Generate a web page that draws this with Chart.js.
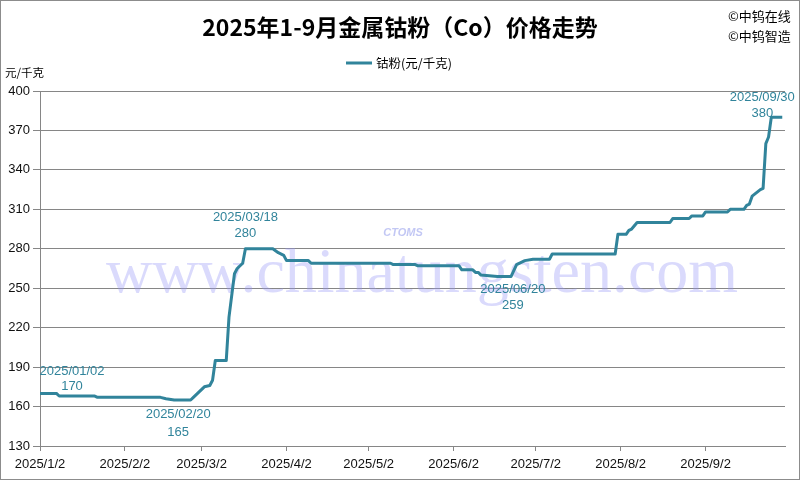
<!DOCTYPE html>
<html>
<head>
<meta charset="utf-8">
<script src="https://cdn.jsdelivr.net/npm/chart.js@4.4.1/dist/chart.umd.min.js"></script>
<style>
  html, body { margin: 0; padding: 0; background: #fff; }
  canvas { display: block; }
</style>
</head>
<body>
<canvas id="priceChart" width="800" height="480"></canvas>
<script>
// Price data (元/千克)
const dates = [
    '2025/01/02', '2025/01/08', '2025/01/09', '2025/01/22', '2025/01/23',
    '2025/02/15', '2025/02/17', '2025/02/20', '2025/02/26', '2025/02/27',
    '2025/03/01', '2025/03/03', '2025/03/05', '2025/03/06', '2025/03/07',
    '2025/03/11', '2025/03/12', '2025/03/14', '2025/03/15', '2025/03/17',
    '2025/03/18', '2025/03/28', '2025/03/30', '2025/04/01', '2025/04/02',
    '2025/04/10', '2025/04/11', '2025/05/10', '2025/05/11', '2025/05/19',
    '2025/05/20', '2025/06/04', '2025/06/05', '2025/06/09', '2025/06/10',
    '2025/06/11', '2025/06/12', '2025/06/18', '2025/06/20', '2025/06/23',
    '2025/06/25', '2025/06/28', '2025/07/01', '2025/07/07', '2025/07/08',
    '2025/07/31', '2025/08/01', '2025/08/04', '2025/08/05', '2025/08/06',
    '2025/08/08', '2025/08/20', '2025/08/21', '2025/08/27', '2025/08/28',
    '2025/09/01', '2025/09/02', '2025/09/10', '2025/09/11', '2025/09/16',
    '2025/09/17', '2025/09/18', '2025/09/19', '2025/09/22', '2025/09/23',
    '2025/09/24', '2025/09/25', '2025/09/26', '2025/09/30'
];
const prices = [
    170, 170, 168, 168, 167,
    167, 166, 165, 165, 167,
    171, 175, 176, 180, 195,
    195, 228, 261, 265, 269,
    280, 280, 277, 275, 271,
    271, 269, 269, 268, 268,
    267, 267, 264, 264, 262,
    262, 260, 259, 259, 259,
    268, 271, 272, 272, 276,
    276, 291, 291, 294, 295,
    300, 300, 303, 303, 305,
    305, 308, 308, 310, 310,
    313, 314, 320, 325, 326,
    360, 365, 380, 380
];

// X axis tick labels (one per month)
const tickLabels = ['2025/1/2', '2025/2/2', '2025/3/2', '2025/4/2', '2025/5/2',
                    '2025/6/2', '2025/7/2', '2025/8/2', '2025/9/2'];
const axisEnd = '2025/10/1';

// Y axis
const yMin = 130, yMax = 400, yStep = 30;

// Labelled points
const noteDates = ['2025/01/02', '2025/02/20', '2025/03/18', '2025/06/20', '2025/09/30'];

const LINE_COLOR = '#31849B';
const NUM_FONT = '"Liberation Sans", Arial, sans-serif';
const CJK_FONT = '"Noto Sans CJK SC", "Noto Sans", sans-serif';

function dayIndex(s) {
    const p = s.split('/').map(Number);
    return Math.round((Date.UTC(p[0], p[1] - 1, p[2]) - Date.UTC(2025, 0, 2)) / 86400000);
}

const points = dates.map((d, i) => ({ x: dayIndex(d), y: prices[i] }));
const tickDays = tickLabels.map(dayIndex);

// where each note sits relative to its point: [dx, dy of first line, dy of second line]
const noteOffsets = [[32, -22, -7], [4, 14, 32], [0, -31, -15], [10, 13, 29], [-20, -20, -4]];

const decor = {
    id: 'decor',
    beforeDraw(chart) {
        const ctx = chart.ctx;
        ctx.save();
        ctx.fillStyle = '#fff';
        ctx.fillRect(0, 0, chart.width, chart.height);
        ctx.strokeStyle = '#8c8c8c';
        ctx.lineWidth = 1;
        ctx.strokeRect(0.5, 0.5, chart.width - 1, chart.height - 1);

        // title
        ctx.fillStyle = '#000';
        ctx.textBaseline = 'middle';
        ctx.textAlign = 'center';
        ctx.font = 'bold 23px ' + CJK_FONT;
        ctx.fillText('2025年1-9月金属钴粉（Co）价格走势', 400, 27);

        // copyright
        ctx.textAlign = 'left';
        ctx.font = '13px ' + CJK_FONT;
        ctx.fillText('©中钨在线', 728, 16);
        ctx.fillText('©中钨智造', 728, 36);

        // legend
        ctx.strokeStyle = LINE_COLOR;
        ctx.lineWidth = 3;
        ctx.beginPath();
        ctx.moveTo(346, 63);
        ctx.lineTo(372, 63);
        ctx.stroke();
        ctx.fillStyle = '#000';
        ctx.font = '12.5px ' + CJK_FONT;
        ctx.fillText('钴粉(元/千克)', 376, 63);

        // unit
        ctx.font = '11.5px ' + CJK_FONT;
        ctx.fillText('元/千克', 5, 73);
        ctx.restore();
    },
    beforeDatasetsDraw(chart) {
        // watermark
        const ctx = chart.ctx;
        ctx.save();
        ctx.textAlign = 'center';
        ctx.textBaseline = 'alphabetic';
        ctx.fillStyle = 'rgba(150, 150, 245, 0.35)';
        ctx.font = '64px "Liberation Serif", "DejaVu Serif", serif';
        ctx.fillText('www.chinatungsten.com', 422, 292);
        ctx.fillStyle = 'rgba(120, 130, 230, 0.45)';
        ctx.font = 'italic bold 11px "Liberation Sans", sans-serif';
        ctx.fillText('CTOMS', 403, 236);
        ctx.restore();
    },
    afterDatasetsDraw(chart) {
        const ctx = chart.ctx;
        const xs = chart.scales.x, ys = chart.scales.y;
        ctx.save();
        ctx.fillStyle = LINE_COLOR;
        ctx.textAlign = 'center';
        ctx.textBaseline = 'middle';
        ctx.font = '13px ' + NUM_FONT;
        noteDates.forEach((d, i) => {
            const idx = dates.indexOf(d);
            const px = xs.getPixelForValue(dayIndex(d));
            const py = ys.getPixelForValue(prices[idx]);
            const off = noteOffsets[i];
            ctx.fillText(d, px + off[0], py + off[1]);
            ctx.fillText(String(prices[idx]), px + off[0], py + off[2]);
        });
        ctx.restore();
    }
};

new Chart(document.getElementById('priceChart'), {
    type: 'line',
    data: {
        datasets: [{
            label: '钴粉(元/千克)',
            data: points,
            borderColor: LINE_COLOR,
            borderWidth: 3,
            borderJoinStyle: 'round',
            pointRadius: 0,
            tension: 0,
            fill: false
        }]
    },
    options: {
        responsive: false,
        animation: false,
        layout: { padding: { top: 91, right: 15, left: 0, bottom: 0 } },
        plugins: {
            legend: { display: false },
            title: { display: false },
            tooltip: { enabled: false }
        },
        scales: {
            x: {
                type: 'linear',
                min: 0,
                max: dayIndex(axisEnd),
                afterBuildTicks: s => { s.ticks = tickDays.map(v => ({ value: v })); },
                afterFit: s => { s.height = 34; },
                grid: { drawOnChartArea: false, tickLength: 5, color: '#868686' },
                border: { color: '#868686' },
                ticks: {
                    autoSkip: false,
                    maxRotation: 0,
                    padding: 6,
                    color: '#111',
                    font: { family: NUM_FONT, size: 13 },
                    callback: v => tickLabels[tickDays.indexOf(v)]
                }
            },
            y: {
                min: yMin,
                max: yMax,
                afterFit: s => { s.width = 40; },
                grid: { color: '#868686', tickLength: 7 },
                border: { color: '#868686' },
                ticks: {
                    stepSize: yStep,
                    padding: 3,
                    color: '#111',
                    font: { family: NUM_FONT, size: 13 }
                }
            }
        }
    },
    plugins: [decor]
});
</script>
</body>
</html>
